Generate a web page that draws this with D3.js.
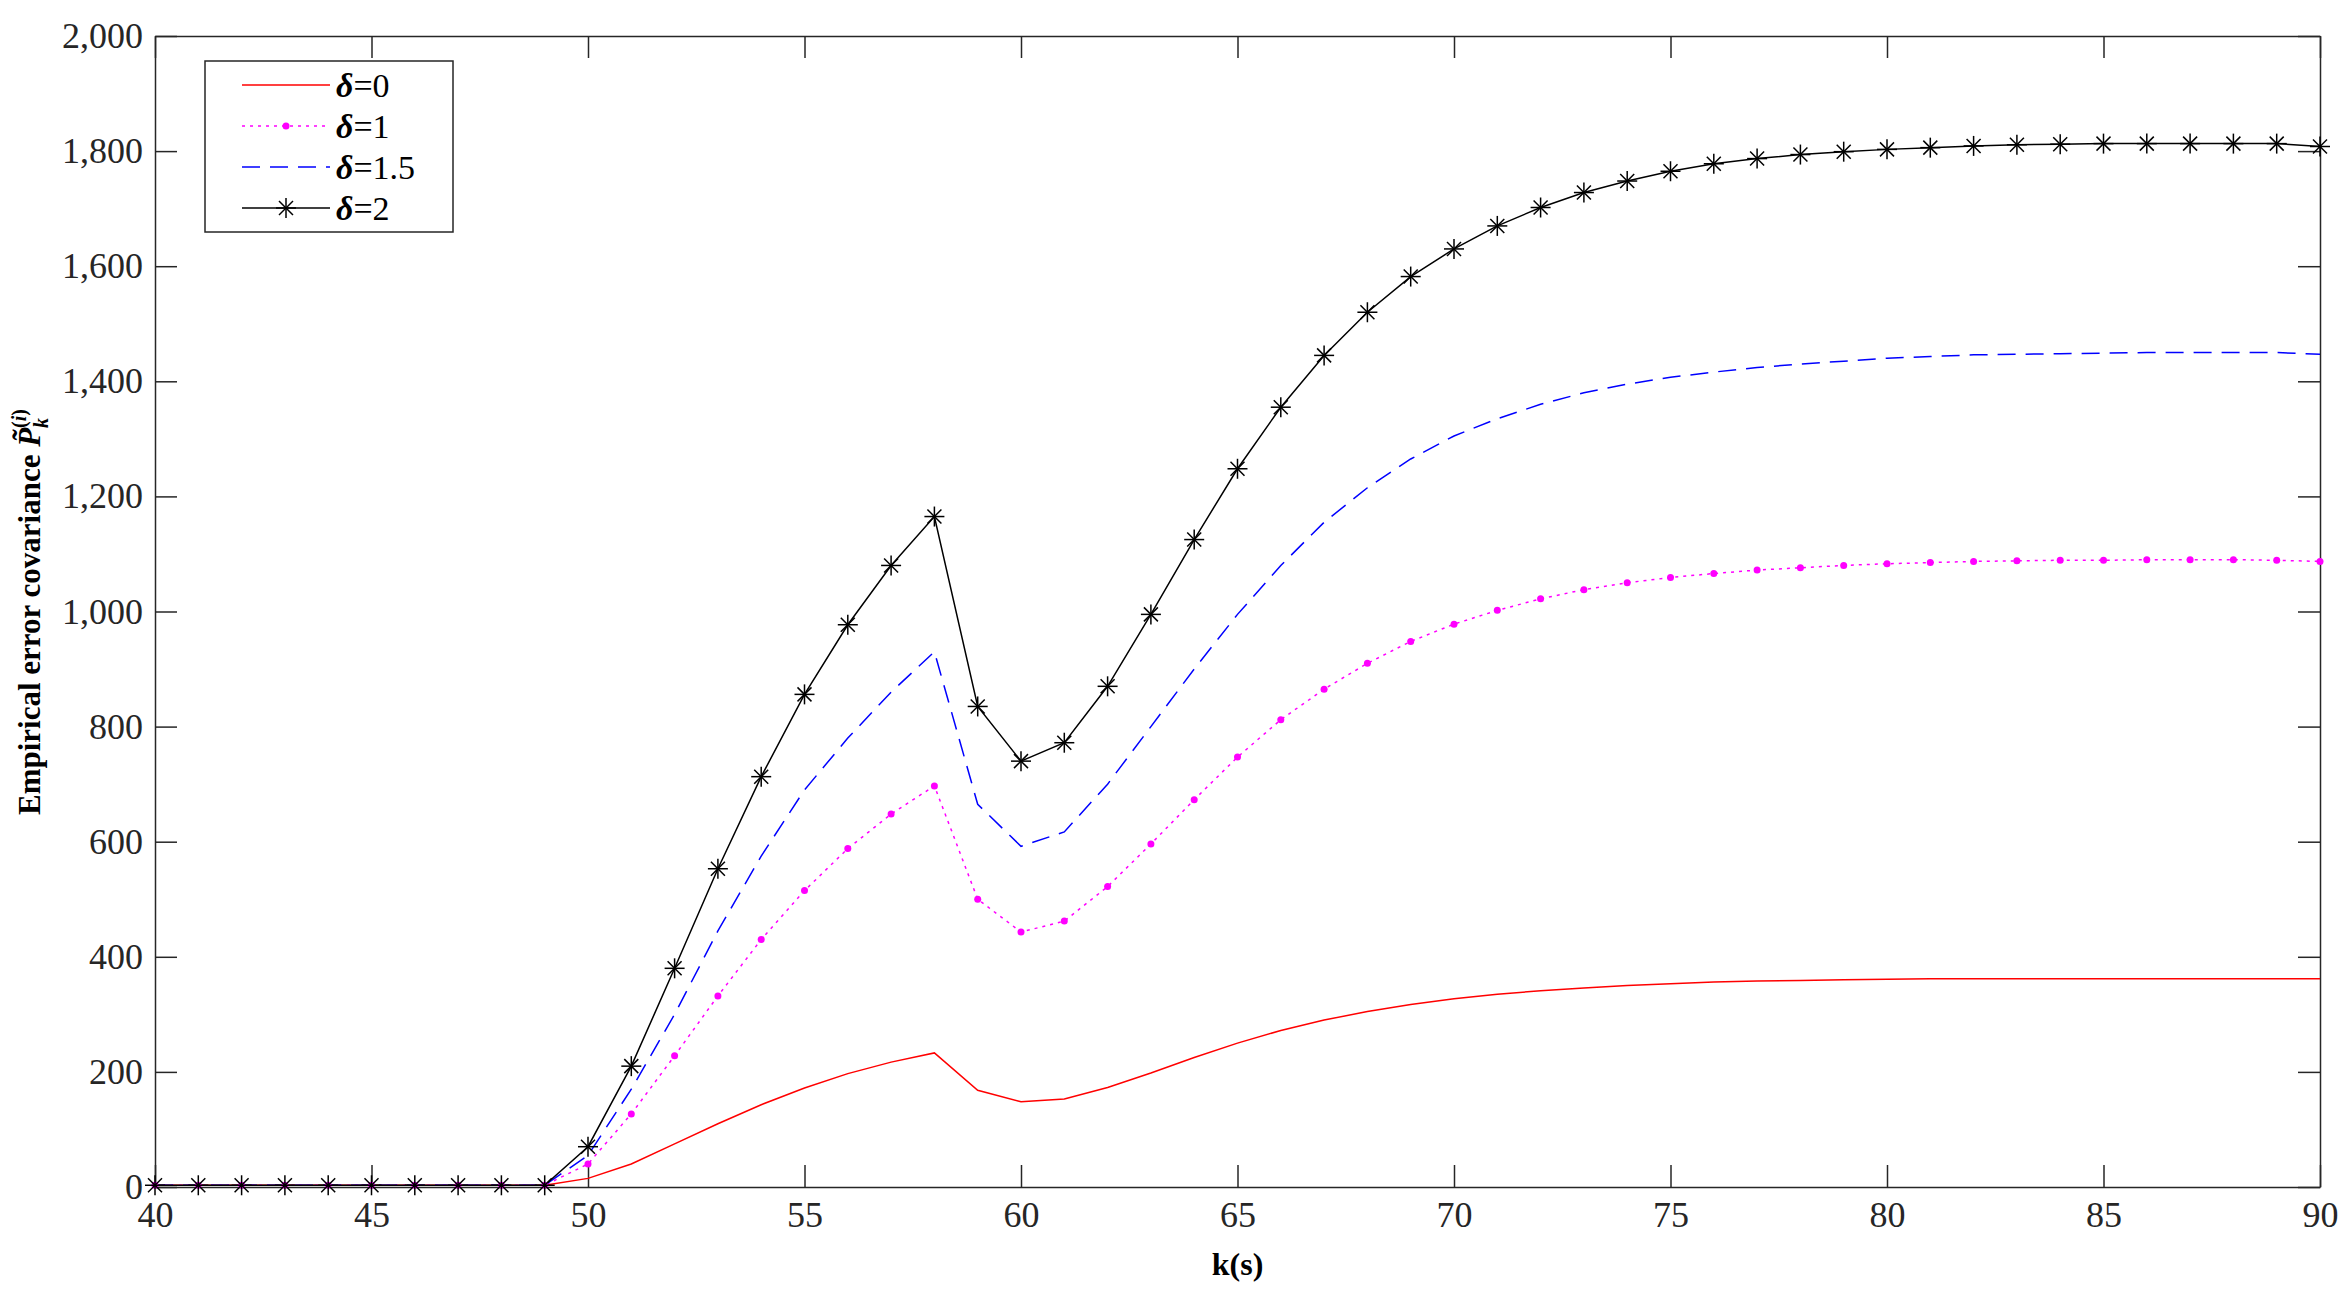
<!DOCTYPE html>
<html><head><meta charset="utf-8">
<script src="https://cdn.jsdelivr.net/npm/d3@7"></script>
<style>body{margin:0;background:#fff}text{font-family:"Liberation Serif","Times New Roman",serif}</style>
</head><body><svg id="c" width="2345" height="1294"></svg>
<script>
// k values and series
const kVals = d3.range(40, 91);
const zeros = [3,3,3,3,3,3,3,3,3,3];
const d0 = zeros.concat([15,40,75,110,143,172,197,217,233,168,148,153,173,198,225,250,272,290,305,317,327,335,341,346,350,353,356,358,359,360,361,362,362,362,362,362,362,362,362,362,362]);
const d1 = zeros.concat([40,127,228,332,430,515,588,648,697,500,443,462,522,596,673,747,812,865,910,948,978,1002,1022,1038,1050,1059,1066,1072,1076,1080,1083,1085,1087,1088,1089,1089,1090,1090,1090,1089,1087]);
const d15 = zeros.concat([55,170,300,445,575,690,780,860,930,665,592,617,700,800,900,995,1080,1155,1215,1265,1305,1335,1360,1380,1395,1407,1416,1424,1430,1435,1440,1443,1446,1447,1448,1449,1450,1450,1450,1450,1447]);
const d2 = zeros.concat([70,210,380,553,713,856,977,1080,1165,835,740,772,870,995,1125,1248,1355,1445,1520,1582,1630,1670,1702,1728,1748,1765,1778,1787,1794,1799,1803,1806,1809,1811,1812,1813,1813,1813,1813,1813,1808]);
const xTicks = d3.range(40, 91, 5);
const yTicks = d3.range(0, 2001, 200);
const labels = ["0", "1", "1.5", "2"];

const L = 155, R = 2320, T = 36, B = 1187;
const svg = d3.select("#c");
const x = d3.scaleLinear().domain([40, 90]).range([L, R]);
const y = d3.scaleLinear().domain([0, 2000]).range([B, T]);

// axes (ticks inward, boxed)
const tk = 22;
svg.append("g").attr("transform", `translate(0,${B})`).call(d3.axisBottom(x).tickValues(xTicks).tickSizeInner(-tk).tickSizeOuter(0).tickPadding(14));
svg.append("g").attr("transform", `translate(0,${T})`).call(d3.axisTop(x).tickValues(xTicks).tickSizeInner(-tk).tickSizeOuter(0).tickFormat(""));
svg.append("g").attr("transform", `translate(${L},0)`).call(d3.axisLeft(y).tickValues(yTicks).tickSizeInner(-tk).tickSizeOuter(0).tickPadding(12));
svg.append("g").attr("transform", `translate(${R},0)`).call(d3.axisRight(y).tickValues(yTicks).tickSizeInner(-tk).tickSizeOuter(0).tickFormat(""));
svg.selectAll(".domain,.tick line").attr("stroke", "#262626").attr("stroke-width", 1.5);
svg.selectAll(".tick text").attr("font-size", 36).attr("fill", "#262626").style("font-family", "Liberation Serif");

const line = d3.line().x((d, i) => x(kVals[i])).y(d => y(d));
const series = [
  {data: d0, color: "#ff0000", dash: null},
  {data: d1, color: "#ff00ff", dash: "3,5"},
  {data: d15, color: "#0000ff", dash: "18,10"},
  {data: d2, color: "#000000", dash: null}
];
series.forEach(s => {
  svg.append("path").datum(s.data).attr("d", line).attr("fill", "none")
    .attr("stroke", s.color).attr("stroke-width", 1.5).attr("stroke-dasharray", s.dash);
});
function star(g, cx, cy, r) {
  [[0, r], [r, 0], [r * 0.7, r * 0.7], [r * 0.7, -r * 0.7]].forEach(([dx, dy]) => {
    g.append("line").attr("x1", cx - dx).attr("y1", cy - dy).attr("x2", cx + dx).attr("y2", cy + dy)
      .attr("stroke", "#000").attr("stroke-width", 1.5);
  });
}
svg.append("g").selectAll("circle").data(d1).join("circle")
  .attr("cx", (d, i) => x(kVals[i])).attr("cy", d => y(d)).attr("r", 3.5).attr("fill", "#ff00ff");
const sg = svg.append("g");
d2.forEach((d, i) => star(sg, x(kVals[i]), y(d), 10));

// legend
const lg = svg.append("g");
lg.append("rect").attr("x", 205).attr("y", 61).attr("width", 248).attr("height", 171)
  .attr("fill", "#fff").attr("stroke", "#262626").attr("stroke-width", 1.5);
series.forEach((s, i) => {
  const yy = 85 + i * 41;
  lg.append("line").attr("x1", 242).attr("x2", 330).attr("y1", yy).attr("y2", yy)
    .attr("stroke", s.color).attr("stroke-width", 1.5).attr("stroke-dasharray", s.dash);
  if (i === 1) lg.append("circle").attr("cx", 286).attr("cy", yy).attr("r", 3.5).attr("fill", s.color);
  if (i === 3) star(lg, 286, yy, 10);
  const t = lg.append("text").attr("x", 336).attr("y", yy + 12).attr("font-size", 34);
  t.append("tspan").attr("font-weight", "bold").attr("font-style", "italic").text("δ");
  t.append("tspan").text("=" + labels[i]);
});

// axis labels
svg.append("text").attr("x", (L + R) / 2).attr("y", 1275).attr("text-anchor", "middle")
  .attr("font-size", 32).attr("font-weight", "bold").text("k(s)");
const yl = svg.append("text").attr("transform", "translate(40,612) rotate(-90)")
  .attr("text-anchor", "middle").attr("font-size", 31).attr("font-weight", "bold");
yl.append("tspan").text("Empirical error covariance ");
yl.append("tspan").attr("font-style", "italic").text("P̃");
yl.append("tspan").attr("font-style", "italic").attr("font-size", 20).attr("dy", 8).text("k");
yl.append("tspan").attr("font-size", 20).attr("dy", -22).attr("dx", -10).text("(");
yl.append("tspan").attr("font-size", 20).attr("font-style", "italic").text("i");
yl.append("tspan").attr("font-size", 20).text(")");
</script></body></html>
